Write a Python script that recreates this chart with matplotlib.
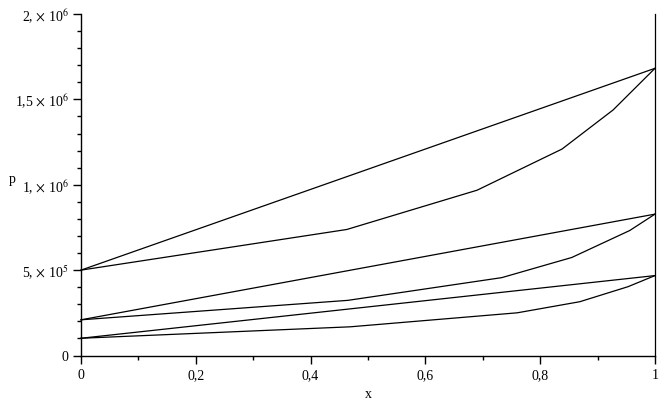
import matplotlib
matplotlib.use("Agg")
import matplotlib.pyplot as plt
import numpy as np

plt.rcParams['font.family'] = ['Liberation Serif', 'DejaVu Serif']
plt.rcParams['mathtext.fontset'] = 'stix'

# straight lines (upper side of each loop)
line_x = [0.0, 1.0]
line1_p = [5.0e5, 1.682e6]
line2_p = [2.09e5, 8.28e5]
line3_p = [1.01e5, 4.68e5]

# curves (lower side of each loop)
curve1_x = [0.0, 0.463, 0.690, 0.838, 0.927, 1.0]
curve1_p = [5.0e5, 7.38e5, 9.68e5, 1.209e6, 1.438e6, 1.682e6]
curve2_x = [0.0, 0.465, 0.733, 0.855, 0.956, 1.0]
curve2_p = [2.09e5, 3.23e5, 4.56e5, 5.74e5, 7.32e5, 8.28e5]
curve3_x = [0.0, 0.469, 0.760, 0.869, 0.953, 1.0]
curve3_p = [1.01e5, 1.68e5, 2.50e5, 3.15e5, 4.03e5, 4.68e5]

# vertical line at x = 1
vert_x = [1.0, 1.0]
vert_p = [0.0, 2.0e6]

xticks = [0, 0.2, 0.4, 0.6, 0.8, 1]
xlabels = ["0", "0,2", "0,4", "0,6", "0,8", "1"]
yticks = [0, 5e5, 1e6, 1.5e6, 2e6]
ylabels = ["0", r"5, $\times$ 10$^5$", r"1, $\times$ 10$^6$",
           r"1,5 $\times$ 10$^6$", r"2, $\times$ 10$^6$"]

fig = plt.figure(figsize=(6.64, 4.02), dpi=100)
ax = fig.add_axes([81 / 664, 1 - 356.5 / 402, 574 / 664, 341.5 / 402])

for xs, ps in [(line_x, line1_p), (curve1_x, curve1_p),
               (line_x, line2_p), (curve2_x, curve2_p),
               (line_x, line3_p), (curve3_x, curve3_p),
               (vert_x, vert_p)]:
    ax.plot(xs, ps, color='black', linewidth=0.9, clip_on=False)

ax.set_xlim(0, 1)
ax.set_ylim(0, 2e6)
ax.spines['top'].set_visible(False)
ax.spines['right'].set_visible(False)
ax.spines['left'].set_linewidth(1.0)
ax.spines['bottom'].set_linewidth(1.0)

ax.set_xticks(xticks)
ax.set_xticklabels(xlabels)
ax.set_xticks(np.arange(0.1, 1.0, 0.2), minor=True)
ax.set_yticks(yticks)
ax.set_yticklabels(ylabels)
ax.set_yticks([v * 1e5 for v in range(1, 20) if v % 5 != 0], minor=True)

ax.tick_params(axis='both', which='major', direction='out', length=6, width=1,
               labelsize=10, pad=3)
ax.tick_params(axis='both', which='minor', direction='out', length=3, width=1)

ax.set_xlabel("x", fontsize=10, labelpad=4)
ax.set_ylabel("p", fontsize=10, rotation=0)
ax.yaxis.set_label_coords(-0.12, 0.5)

fig.savefig("out.png", dpi=100)
